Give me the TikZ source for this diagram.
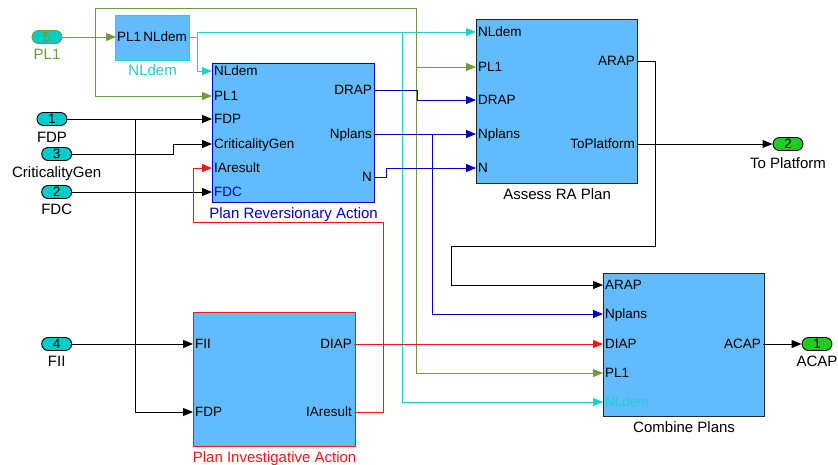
\documentclass[tikz,border=0pt]{standalone}
\usepackage{fontspec}
\setmainfont{Liberation Sans}
\usetikzlibrary{arrows.meta,positioning}

\definecolor{blockblue}{RGB}{98,187,252}
\definecolor{wirecyan}{RGB}{30,208,208}
\definecolor{wireolive}{RGB}{112,155,60}
\definecolor{wireblue}{RGB}{0,0,205}
\definecolor{wirered}{RGB}{250,20,20}
\definecolor{portcyan}{RGB}{0,204,204}
\definecolor{portgreen}{RGB}{30,205,30}

\begin{document}
\begin{tikzpicture}[x=1pt,y=-1pt,
    block/.style={draw=#1, fill=blockblue, line width=1.2pt, anchor=north west, inner sep=0pt},
    block/.default=black!85,
    portin/.style={font=\fontsize{13.5}{14}\selectfont, text height=9.7pt, text depth=0pt, inner sep=2pt, anchor=west},
    portout/.style={portin, anchor=east},
    blocklabel/.style={font=\fontsize{15}{16}\selectfont, inner sep=1pt},
    inport/.style={draw=#1, fill=portcyan, line width=0.9pt, rounded corners=6.5pt, minimum width=30pt, minimum height=13pt, inner sep=0pt, font=\fontsize{13.5}{14}\selectfont},
    inport/.default=black,
    outport/.style={inport, fill=portgreen},
    line/.style={line width=0.9pt},
    wire/.style={line, -{Triangle[length=10pt,width=8pt]}},
]
    \useasboundingbox (0,0) rectangle (838,464);

    % 子系统方块
    \node[block=wirecyan, minimum width=74pt, minimum height=45pt] (nl) at (115,15) {};
    \node[block=wireblue, minimum width=162pt, minimum height=139pt] (pra) at (212,63) {};
    \node[block, minimum width=161pt, minimum height=164pt] (ar) at (476,19) {};
    \node[block=wirered, minimum width=162pt, minimum height=134pt] (pia) at (193,312) {};
    \node[block, minimum width=161pt, minimum height=143pt] (cp) at (603,273) {};

    % 方块名称
    \node[blocklabel, text=wirecyan, below=2.5pt of nl] (nlName) {NLdem};
    \node[blocklabel, text=wireblue, below=3pt of pra] (praName) {Plan Reversionary Action};
    \node[blocklabel, below=3pt of ar] (arName) {Assess RA Plan};
    \node[blocklabel, text=wirered, below=3pt of pia] (piaName) {Plan Investigative Action};
    \node[blocklabel, below=3pt of cp] (cpName) {Combine Plans};

    % 端口名
    \node[portin, inner sep=1pt] (nlIn) at (116,37) {PL1};
    \node[portout, inner sep=1pt] (nlOut) at (188,37) {NLdem};

    \node[portin] (praNLdem) at (212,71) {NLdem};
    \node[portin] (praPL1) at (212,96) {PL1};
    \node[portin] (praFDP) at (212,119) {FDP};
    \node[portin] (praCrit) at (212,144) {CriticalityGen};
    \node[portin] (praIA) at (212,168) {IAresult};
    \node[portin, text=wireblue] (praFDC) at (212,192) {FDC};
    \node[portout] (praDRAP) at (374,90) {DRAP};
    \node[portout] (praNplans) at (374,134) {Nplans};
    \node[portout] (praN) at (374,177) {N};

    \node[portin] (arNLdem) at (476,32) {NLdem};
    \node[portin] (arPL1) at (476,67) {PL1};
    \node[portin] (arDRAP) at (476,100) {DRAP};
    \node[portin] (arNplans) at (476,134) {Nplans};
    \node[portin] (arN) at (476,168) {N};
    \node[portout] (arARAP) at (637,61) {ARAP};
    \node[portout] (arTo) at (637,144) {ToPlatform};

    \node[portin] (piaFII) at (193,344) {FII};
    \node[portin] (piaFDP) at (193,412) {FDP};
    \node[portout] (piaDIAP) at (354,344) {DIAP};
    \node[portout] (piaIA) at (354,412) {IAresult};

    \node[portin] (cpARAP) at (603,285) {ARAP};
    \node[portin] (cpNplans) at (603,314) {Nplans};
    \node[portin] (cpDIAP) at (603,344) {DIAP};
    \node[portin] (cpPL1) at (603,373) {PL1};
    \node[portin, text=wirecyan] (cpNLdem) at (603,402) {NLdem};
    \node[portout] (cpACAP) at (763,344) {ACAP};

    % 输入输出端口
    \node[inport=wireolive, text=wireolive] (in5) at (47,37) {5};
    \node[inport] (in1) at (52,119) {1};
    \node[inport] (in3) at (56.7,154) {3};
    \node[inport] (in2) at (56.7,192) {2};
    \node[inport] (in4) at (56.7,344) {4};
    \node[outport] (out2) at (788,144) {2};
    \node[outport] (out1) at (817,344) {1};

    \node[blocklabel, text=wireolive, below=4pt of in5] (in5Name) {PL1};
    \node[blocklabel, below=5pt of in1] (in1Name) {FDP};
    \node[blocklabel, below=4pt of in3] (in3Name) {CriticalityGen};
    \node[blocklabel, below=4pt of in2] (in2Name) {FDC};
    \node[blocklabel, below=4pt of in4] (in4Name) {FII};
    \node[blocklabel, below=5pt of out2] (out2Name) {To Platform};
    \node[blocklabel, below=4pt of out1] (out1Name) {ACAP};

    % 分支点
    \coordinate (pl1Split) at (95,37);
    \coordinate (pl1Top) at (416,8);
    \coordinate (pl1Tap) at (416,67);
    \coordinate (nlSplit) at (197,37);
    \coordinate (nlTop) at (197,32);
    \coordinate (nlTap) at (402,32);
    \coordinate (fdpSplit) at (135,119);
    \coordinate (critBend) at (173,154);
    \coordinate (arapBend) at (655,246);
    \coordinate (arapDown) at (451,285);
    \coordinate (iaUp) at (383,222);
    \coordinate (iaBend) at (193,168);
    \coordinate (drapBend) at (417,100);
    \coordinate (nplSplit) at (432,134);
    \coordinate (nBend) at (386,168);

    % PL1 连线
    \draw[wire, wireolive] (in5.east) -- (nlIn.west);
    \draw[wire, wireolive] (pl1Split) |- (praPL1.west);
    \draw[wire, wireolive] (pl1Split) |- (pl1Top) |- (cpPL1.west);
    \draw[wire, wireolive] (pl1Tap) -- (arPL1.west);

    % NLdem 连线
    \draw[line, wirecyan] (nlOut.east) -- (nlSplit) -- (nlTop);
    \draw[wire, wirecyan] (nlTop) |- (praNLdem.west);
    \draw[wire, wirecyan] (nlTop) -- (arNLdem.west);
    \draw[wire, wirecyan] (nlTap) |- (cpNLdem.west);

    % 黑色连线
    \draw[wire] (in1.east) -- (praFDP.west);
    \draw[wire] (fdpSplit) |- (piaFDP.west);
    \draw[wire] (in3.east) -- (critBend) |- (praCrit.west);
    \draw[wire] (in2.east) -- (praFDC.west);
    \draw[wire] (in4.east) -- (piaFII.west);
    \draw[wire] (arARAP.east) -| (arapBend) -| (arapDown) -- (cpARAP.west);
    \draw[wire] (arTo.east) -- (out2.west);
    \draw[wire] (cpACAP.east) -- (out1.west);

    % 红色连线
    \draw[wire, wirered] (piaIA.east) -| (iaUp) -| (iaBend) -- (praIA.west);
    \draw[wire, wirered] (piaDIAP.east) -- (cpDIAP.west);

    % 蓝色连线
    \draw[wire, wireblue] (praDRAP.east) -| (drapBend) -- (arDRAP.west);
    \draw[wire, wireblue] (praNplans.east) -- (arNplans.west);
    \draw[wire, wireblue] (nplSplit) |- (cpNplans.west);
    \draw[wire, wireblue] (praN.east) -| (nBend) -- (arN.west);

\end{tikzpicture}
\end{document}
